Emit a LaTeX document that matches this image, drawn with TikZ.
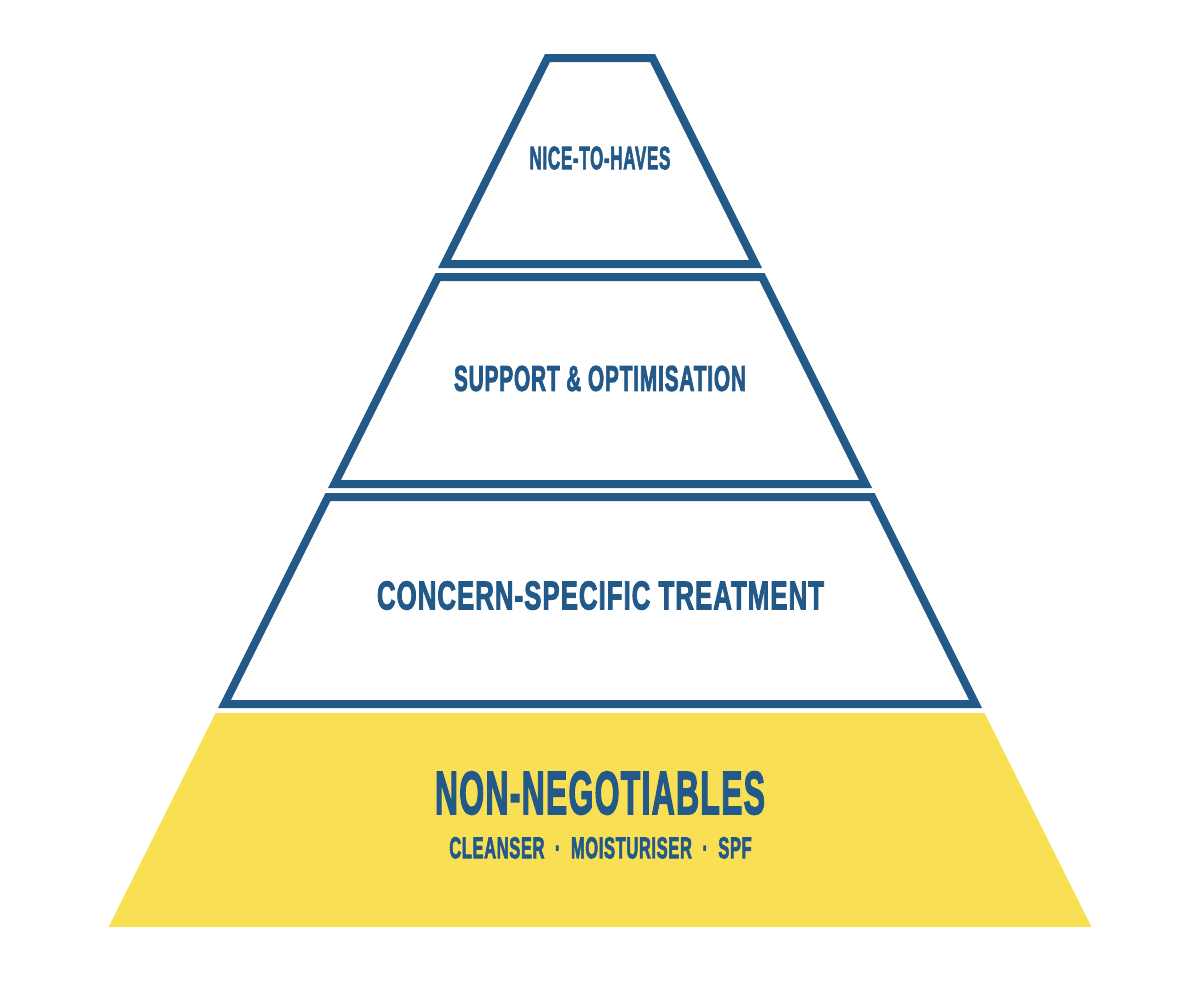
\documentclass[tikz,border=0pt]{standalone}
\usepackage{fontspec}
\usepackage{graphicx}
\newfontfamily\condfont[FakeBold=3,LetterSpace=4]{Liberation Sans}
\definecolor{pblue}{RGB}{35,89,137}
\definecolor{pyellow}{RGB}{249,223,84}
\tikzset{
  tier/.style={line width=8pt, draw=pblue, line join=miter},
  base/.style={fill=pyellow, draw=none},
  lbl/.style={inner sep=0pt, outer sep=0pt, text=pblue, font=\condfont\bfseries}
}
\begin{document}
\begin{tikzpicture}[x=0.5pt, y=-0.5pt]
  \useasboundingbox (0,0) rectangle (1200,982);
  % Tier 1
  \begin{scope}
    \clip (545,54) -- (655,54) -- (762,268) -- (438,268) -- cycle;
    \draw[tier] (545,54) -- (655,54) -- (762,268) -- (438,268) -- cycle;
  \end{scope}
  % Tier 2
  \begin{scope}
    \clip (435.5,273) -- (764.5,273) -- (872,488) -- (328,488) -- cycle;
    \draw[tier] (435.5,273) -- (764.5,273) -- (872,488) -- (328,488) -- cycle;
  \end{scope}
  % Tier 3
  \begin{scope}
    \clip (325.5,493) -- (874.5,493) -- (982,708) -- (218,708) -- cycle;
    \draw[tier] (325.5,493) -- (874.5,493) -- (982,708) -- (218,708) -- cycle;
  \end{scope}
  % Base tier
  \fill[base] (215.5,713) -- (984.5,713) -- (1091.5,927) -- (108.5,927) -- cycle;

  \node[lbl] (t1) at (600,158) {\resizebox{70.4pt}{11.3pt}{NICE-TO-HAVES}};
  \node[lbl] (t2) at (600,378.5) {\resizebox{146pt}{12.5pt}{SUPPORT \& OPTIMISATION}};
  \node[lbl] (t3) at (600.5,595.5) {\resizebox{223.5pt}{14pt}{CONCERN-SPECIFIC TREATMENT}};
  \node[lbl] (t4) at (600,793) {\resizebox{165pt}{21.2pt}{NON-NEGOTIABLES}};
  \node[lbl] (t5) at (600.5,847.8) {\resizebox{151.2pt}{10.5pt}{CLEANSER\ \ ·\ \ MOISTURISER\ \ ·\ \ SPF}};
\end{tikzpicture}
\end{document}
